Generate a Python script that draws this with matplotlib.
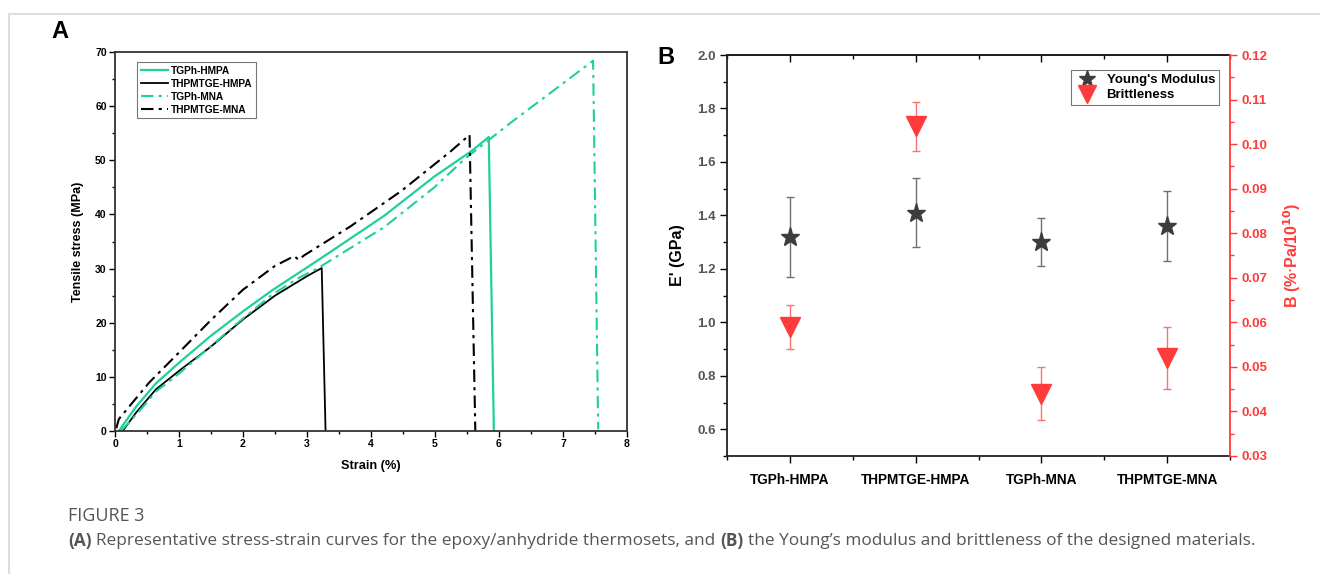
import numpy as np
import matplotlib
matplotlib.use("Agg")
from matplotlib import pyplot as plt
from matplotlib.lines import Line2D
from matplotlib.ticker import MultipleLocator, FixedLocator

plt.rcParams['font.family'] = ['Liberation Sans', 'DejaVu Sans']

# ---- panel A: stress-strain curves ----
strain_tgph_hmpa = [0.06, 0.33, 0.64, 1.0, 1.5, 2.0, 2.47, 3.0, 3.42, 4.2, 4.99, 5.57, 5.84, 5.92]
stress_tgph_hmpa = [0, 4.5, 8.8, 12.6, 17.6, 22.1, 26.1, 30.2, 33.5, 39.7, 47.0, 51.7, 54.3, 0]

strain_thpmtge_hmpa = [0.12, 0.33, 0.64, 1.0, 1.5, 2.0, 2.5, 3.0, 3.23, 3.29]
stress_thpmtge_hmpa = [0, 3.4, 7.7, 11.1, 15.6, 20.6, 25.0, 28.6, 30.1, 0]

strain_tgph_mna = [0.09, 0.33, 0.64, 1.0, 1.5, 2.0, 2.47, 2.89, 3.16, 3.42, 4.2, 4.99, 5.46, 6.19, 7.0, 7.47, 7.55]
stress_tgph_mna = [0, 3.0, 7.3, 10.6, 15.7, 20.8, 25.3, 28.4, 30.0, 31.9, 37.6, 45.0, 50.2, 57.0, 64.2, 68.4, 0.3]

strain_thpmtge_mna = [0.02, 0.06, 0.53, 1.0, 1.5, 2.0, 2.5, 2.8, 2.87, 2.95, 3.68, 4.47, 5.25, 5.54, 5.63]
stress_thpmtge_mna = [0.5, 2.2, 8.9, 14.5, 20.5, 26.1, 30.5, 32.3, 31.6, 32.4, 37.8, 44.3, 51.7, 54.7, 0]

# ---- panel B: modulus and brittleness ----
materials = ["TGPh-HMPA", "THPMTGE-HMPA", "TGPh-MNA", "THPMTGE-MNA"]
modulus = [1.32, 1.41, 1.30, 1.36]
modulus_err = [0.15, 0.13, 0.09, 0.13]
brittleness = [0.059, 0.104, 0.044, 0.052]
brittleness_err = [0.005, 0.0055, 0.006, 0.007]

green = '#1ED09C'
red = '#FF3B3B'

fig = plt.figure(figsize=(13.2, 5.74), dpi=100)

# outer frame of the page
fig.add_artist(Line2D([10/1320, 1], [1-14/574, 1-14/574], color='#dddddd', lw=1.5))
fig.add_artist(Line2D([9/1320, 9/1320], [0, 1-14/574], color='#dddddd', lw=1.5))

# Panel A
axA = fig.add_axes([115/1320, 1-431/574, 512/1320, 379/574])
dashdot = (0, (6, 2.5, 1.5, 2.5))
axA.plot(strain_tgph_hmpa, stress_tgph_hmpa, color=green, lw=1.6, label='TGPh-HMPA')
axA.plot(strain_thpmtge_hmpa, stress_thpmtge_hmpa, color='black', lw=1.3, label='THPMTGE-HMPA')
axA.plot(strain_tgph_mna, stress_tgph_mna, color=green, lw=1.5, ls=dashdot, label='TGPh-MNA')
axA.plot(strain_thpmtge_mna, stress_thpmtge_mna, color='black', lw=1.5, ls=dashdot, label='THPMTGE-MNA')
axA.set_xlim(0, 8)
axA.set_ylim(0, 70)
axA.xaxis.set_major_locator(MultipleLocator(1))
axA.xaxis.set_minor_locator(MultipleLocator(0.5))
axA.yaxis.set_major_locator(MultipleLocator(10))
axA.yaxis.set_minor_locator(MultipleLocator(5))
axA.tick_params(which='major', direction='out', length=4, width=1, labelsize=7.5, pad=2)
axA.tick_params(which='minor', direction='out', length=2.5, width=1)
for lab in axA.get_xticklabels() + axA.get_yticklabels():
    lab.set_fontweight('bold')
for sp in axA.spines.values():
    sp.set_color('#333333')
    sp.set_linewidth(1.3)
axA.set_xlabel('Strain (%)', fontsize=9.2, fontweight='bold', labelpad=8)
axA.set_ylabel('Tensile stress (MPa)', fontsize=9, fontweight='bold', labelpad=8)
legA = axA.legend(loc='upper left', bbox_to_anchor=(0.043, 0.973), prop={'weight': 'bold', 'size': 7.3},
                  frameon=True, fancybox=False, edgecolor='#555555', handlelength=2.7,
                  handletextpad=0.3, borderpad=0.35, labelspacing=0.3, borderaxespad=0)
legA.get_frame().set_linewidth(0.8)
fig.text(60/1320, 1-32/574, 'A', fontsize=17, fontweight='bold', ha='center', va='center')

# Panel B
axB = fig.add_axes([727/1320, 1-456/574, 503/1320, 401/574])
x = np.arange(1, len(materials) + 1)
axB.errorbar(x, modulus, yerr=modulus_err, fmt='none', ecolor='#707070', elinewidth=1, capsize=3, capthick=1)
axB.plot(x, modulus, ls='none', marker='*', markersize=14, color='#3d3d3d', label="Young's Modulus")
axB.set_xlim(0.5, 4.5)
axB.set_ylim(0.5, 2.0)
axB.xaxis.set_major_locator(FixedLocator(x))
axB.xaxis.set_minor_locator(FixedLocator([0.5, 1.5, 2.5, 3.5, 4.5]))
axB.set_xticklabels(materials)
axB.yaxis.set_major_locator(FixedLocator([0.6, 0.8, 1.0, 1.2, 1.4, 1.6, 1.8, 2.0]))
axB.yaxis.set_minor_locator(MultipleLocator(0.1))
axB.tick_params(which='major', direction='out', length=5, width=1, labelsize=9.5, pad=3)
axB.tick_params(which='minor', direction='out', length=3, width=1)
axB.tick_params(axis='y', labelcolor='#555555')
axB.tick_params(axis='x', pad=7, labelsize=9.8)
for lab in axB.get_xticklabels() + axB.get_yticklabels():
    lab.set_fontweight('bold')
for sp in ['left', 'top', 'bottom']:
    axB.spines[sp].set_color('#222222')
    axB.spines[sp].set_linewidth(1.3)
axB.spines['right'].set_visible(False)
axB.set_ylabel("E' (GPa)", fontsize=11.5, fontweight='bold', labelpad=9)

top = axB.secondary_xaxis('top')
top.xaxis.set_major_locator(FixedLocator(x))
top.xaxis.set_minor_locator(FixedLocator([0.5, 1.5, 2.5, 3.5, 4.5]))
top.tick_params(which='major', direction='in', length=5, width=1, labeltop=False)
top.tick_params(which='minor', direction='in', length=3, width=1)
top.spines['top'].set_linewidth(1.3)

axR = axB.twinx()
axR.errorbar(x, brittleness, yerr=brittleness_err, fmt='none', ecolor='#FF7070', elinewidth=1, capsize=3, capthick=1)
axR.plot(x, brittleness, ls='none', marker='v', markersize=14, color=red, label='Brittleness')
axR.set_ylim(0.03, 0.12)
axR.yaxis.set_major_locator(MultipleLocator(0.01))
axR.yaxis.set_minor_locator(MultipleLocator(0.005))
axR.tick_params(which='major', direction='out', length=5, width=1, labelsize=9.5, colors=red, pad=3)
axR.tick_params(which='minor', direction='out', length=3, width=1, colors=red)
for lab in axR.get_yticklabels():
    lab.set_fontweight('bold')
axR.spines['right'].set_color(red)
axR.spines['right'].set_linewidth(1.3)
for sp in ['left', 'top', 'bottom']:
    axR.spines[sp].set_visible(False)
axR.set_ylabel(r'B (%$\cdot$Pa/10$^{\mathbf{10}}$)', fontsize=11.5, fontweight='bold', color=red, labelpad=10)

h1, l1 = axB.get_legend_handles_labels()
h2, l2 = axR.get_legend_handles_labels()
legB = axR.legend(h1 + h2, l1 + l2, loc='upper right', bbox_to_anchor=(0.978, 0.962), prop={'weight': 'bold', 'size': 9.5},
                  frameon=True, fancybox=False, edgecolor='#555555', handlelength=1.8,
                  handletextpad=0.6, borderpad=0.3, labelspacing=0.2, borderaxespad=0, markerscale=0.9)
legB.get_frame().set_linewidth(0.8)
fig.text(666/1320, 1-58/574, 'B', fontsize=17, fontweight='bold', ha='center', va='center')

# caption
fig.text(68/1320, 1-516/574, 'FIGURE 3', fontsize=13, color='#555555', family='Open Sans', va='center')
renderer = fig.canvas.get_renderer()
parts = [('(A)', 'bold'), ('Representative stress-strain curves for the epoxy/anhydride thermosets, and', 'normal'),
         ('(B)', 'bold'), ('the Young\u2019s modulus and brittleness of the designed materials.', 'normal')]
cap_size = 12.4
sp_w = 0.27 * cap_size * 100 / 72
xpos = 68
for txt, w in parts:
    t = fig.text(xpos/1320, 1-541/574, txt, fontsize=cap_size, color='#555555', family='Open Sans',
                 fontweight=w, va='center')
    bb = t.get_window_extent(renderer)
    xpos += bb.width + sp_w

fig.savefig('out.png', dpi=100)
